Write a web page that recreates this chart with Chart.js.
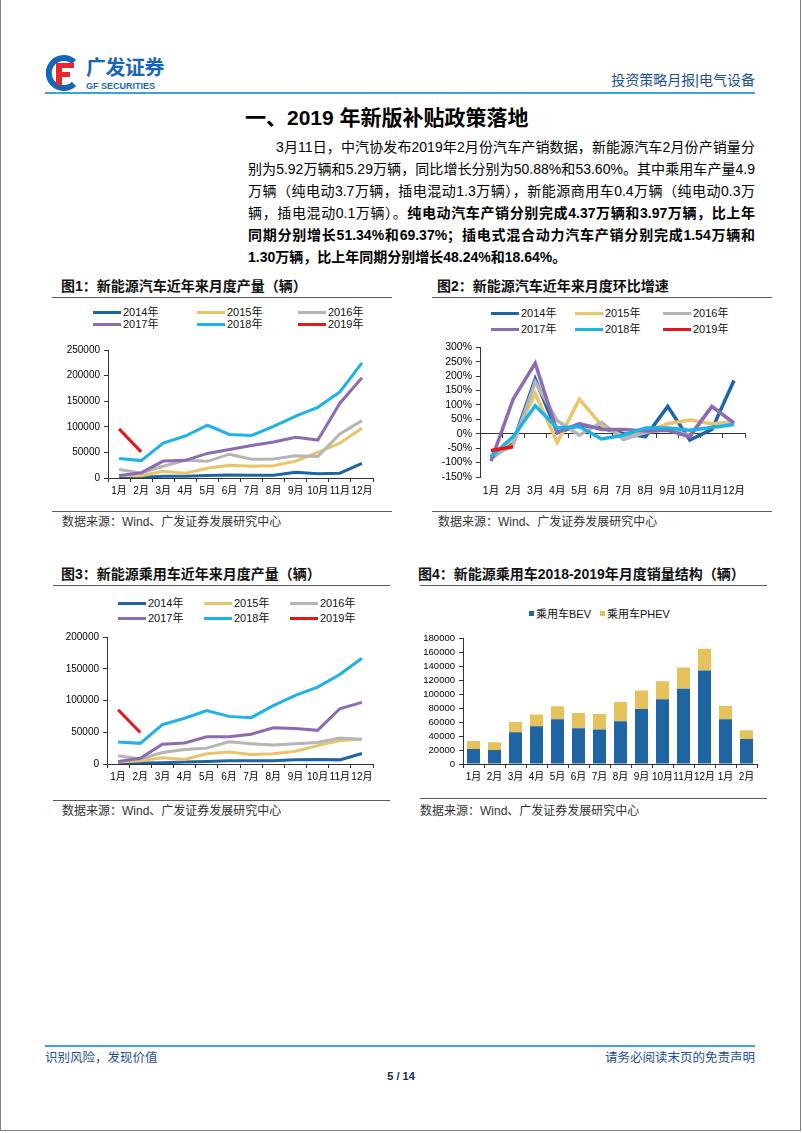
<!DOCTYPE html>
<html>
<head>
<meta charset="utf-8">
<script src="https://cdn.jsdelivr.net/npm/chart.js@4.4.0/dist/chart.umd.min.js"></script>
<style>
  body { margin: 0; background: #fff; font-family: "Liberation Sans", "Noto Sans CJK SC", sans-serif; }
  #page { position: relative; width: 802px; height: 1133px; overflow: hidden; background: #fff; }
  .frame { position: absolute; left: 0; top: -2px; width: 799px; height: 1132px; border: 1px solid #808080; border-top: none; }
  .abs { position: absolute; white-space: nowrap; }
  .hr { position: absolute; height: 1px; background: #595959; }
  .blue { color: #1E4F91; }
  .title { font-size: 14px; font-weight: bold; line-height: 18px; color: #111; }
  .src { font-size: 12px; line-height: 16px; color: #333; }
  .body-line { position: absolute; left: 248px; width: 507px; font-size: 14px; line-height: 22px; color: #000;
               text-align: justify; text-align-last: justify; white-space: nowrap; }
  .b { font-weight: bold; }
  .leg { position: absolute; font-size: 11px; line-height: 14px; color: #111; white-space: nowrap; }
  .sw { position: absolute; height: 3px; width: 28px; }
  canvas { position: absolute; }
</style>
</head>
<body>
<div id="page">
  <div class="frame"></div>

  <!-- header -->
  <svg class="abs" style="left:44px;top:54px" width="36" height="38" viewBox="0 0 36 38">
    <path d="M30 8 A15 15 0 1 0 30 30" fill="none" stroke="#1767B8" stroke-width="6"/>
    <rect x="12" y="9" width="18" height="5" fill="#E8262B"/>
    <rect x="12" y="9" width="6" height="22" fill="#E8262B"/>
    <rect x="12" y="18" width="14" height="5" fill="#E8262B"/>
  </svg>
  <div class="abs" style="left:86px;top:56px;font-size:20px;line-height:24px;font-weight:bold;color:#1767B8;letter-spacing:-0.5px">广发证券</div>
  <div class="abs" style="left:86px;top:81px;font-size:9px;line-height:11px;font-weight:bold;color:#1767B8">GF SECURITIES</div>
  <div class="abs blue" style="right:47px;top:71px;font-size:14px;line-height:18px">投资策略月报|电气设备</div>
  <div class="abs" style="left:45px;top:92px;width:710px;height:2px;background:#3BA3DB"></div>

  <div class="abs" style="left:245px;top:105px;font-size:21px;line-height:26px;font-weight:bold;color:#000">一、2019 年新版补贴政策落地</div>

  <div class="body-line" style="top:136px;text-indent:28px">3月11日，中汽协发布2019年2月份汽车产销数据，新能源汽车2月份产销量分</div>
  <div class="body-line" style="top:158px">别为5.92万辆和5.29万辆，同比增长分别为50.88%和53.60%。其中乘用车产量4.9</div>
  <div class="body-line" style="top:180px">万辆（纯电动3.7万辆，插电混动1.3万辆），新能源商用车0.4万辆（纯电动0.3万</div>
  <div class="body-line" style="top:202px">辆，插电混动0.1万辆）。<span class="b">纯电动汽车产销分别完成4.37万辆和3.97万辆，比上年</span></div>
  <div class="body-line b" style="top:224px">同期分别增长51.34%和69.37%；插电式混合动力汽车产销分别完成1.54万辆和</div>
  <div class="body-line b" style="top:246px;text-align:left;text-align-last:left">1.30万辆，比上年同期分别增长48.24%和18.64%。</div>

  <!-- chart 1 -->
  <div class="abs title" style="left:61px;top:277px">图1：新能源汽车近年来月度产量（辆）</div>
  <div class="hr" style="left:52px;top:297px;width:340px"></div>
  <div id="leg1"></div>
  <canvas id="c1" width="345" height="165" style="left:40px;top:340px"></canvas>
  <div class="hr" style="left:52px;top:511px;width:340px"></div>
  <div class="abs src" style="left:62px;top:514px">数据来源：Wind、广发证券发展研究中心</div>

  <!-- chart 2 -->
  <div class="abs title" style="left:437px;top:277px">图2：新能源汽车近年来月度环比增速</div>
  <div class="hr" style="left:432px;top:297px;width:340px"></div>
  <div id="leg2"></div>
  <canvas id="c2" width="340" height="168" style="left:425px;top:337px"></canvas>
  <div class="hr" style="left:432px;top:511px;width:340px"></div>
  <div class="abs src" style="left:438px;top:514px">数据来源：Wind、广发证券发展研究中心</div>

  <!-- chart 3 -->
  <div class="abs title" style="left:61px;top:565px">图3：新能源乘用车近年来月度产量（辆）</div>
  <div class="hr" style="left:53px;top:585px;width:337px"></div>
  <div id="leg3"></div>
  <canvas id="c3" width="345" height="165" style="left:40px;top:627px"></canvas>
  <div class="hr" style="left:53px;top:800px;width:337px"></div>
  <div class="abs src" style="left:62px;top:803px">数据来源：Wind、广发证券发展研究中心</div>

  <!-- chart 4 -->
  <div class="abs title" style="left:418px;top:565px">图4：新能源乘用车2018-2019年月度销量结构（辆）</div>
  <div class="hr" style="left:420px;top:585px;width:347px"></div>
  <div id="leg4"></div>
  <canvas id="c4" width="355" height="163" style="left:412px;top:629px"></canvas>
  <div class="hr" style="left:420px;top:798px;width:347px"></div>
  <div class="abs src" style="left:420px;top:803px">数据来源：Wind、广发证券发展研究中心</div>

  <!-- footer -->
  <div class="abs" style="left:45px;top:1045px;width:710px;height:2px;background:#3BA3DB"></div>
  <div class="abs blue" style="left:45px;top:1050px;font-size:12.5px;line-height:16px">识别风险，发现价值</div>
  <div class="abs blue" style="right:47px;top:1050px;font-size:12.5px;line-height:16px">请务必阅读末页的免责声明</div>
  <div class="abs" style="left:0;width:802px;text-align:center;top:1069px;font-size:11px;line-height:14px;font-weight:bold;color:#1a2a4a">5 / 14</div>
</div>

<script>
// ── categories ──
const months = ['1月','2月','3月','4月','5月','6月','7月','8月','9月','10月','11月','12月'];
const months4 = ['1月','2月','3月','4月','5月','6月','7月','8月','9月','10月','11月','12月','1月','2月'];
const yearNames = ['2014年','2015年','2016年','2017年','2018年','2019年'];
const yearColors = ['#1F65A3','#E9C46A','#B5B5B5','#8D6BB2','#1DB3E8','#E8161B'];

// ── 图1 新能源汽车月度产量 (辆) ──
const prod2014 = [1000, 1500, 3500, 3500, 5000, 6000, 5500, 5500, 11000, 8500, 9500, 28500];
const prod2015 = [5000, 4500, 13000, 9500, 19000, 25000, 23000, 24000, 33000, 50000, 68000, 97000];
const prod2016 = [16500, 10000, 23000, 34500, 32500, 46500, 36500, 37000, 43500, 42000, 86000, 112000];
const prod2017 = [5000, 10000, 33000, 34500, 48000, 55500, 63500, 70500, 79500, 74000, 146000, 196000];
const prod2018 = [38000, 34000, 68000, 82000, 103000, 85000, 83000, 101000, 121000, 138000, 168000, 225000];
const prod2019 = [96000, 51000];

// ── 图2 月度环比增速 (%) ──
const mom2014 = [-85, -30, 190, 3, 30, 20, 0, -10, 95, -22, 15, 185];
const mom2015 = [-75, -20, 140, -30, 120, 30, -10, 5, 35, 48, 35, 42];
const mom2016 = [-80, -40, 180, 45, -5, 40, -20, 5, 15, -5, 95, 35];
const mom2017 = [-95, 120, 245, 5, 35, 15, 15, 10, 12, -10, 95, 38];
const mom2018 = [-80, -10, 97, 20, 25, -18, -5, 20, 20, 12, 22, 32];
const mom2019 = [-58, -45];

// ── 图3 新能源乘用车月度产量 (辆) ──
const pv2014 = [1000, 1500, 2000, 3000, 4000, 5000, 5000, 5000, 6500, 7000, 6500, 16500];
const pv2015 = [3000, 5000, 10000, 7000, 16000, 19000, 15000, 16000, 20000, 29000, 37000, 39000];
const pv2016 = [13000, 8000, 18000, 23000, 25000, 35000, 32000, 30000, 32000, 34000, 41000, 39000];
const pv2017 = [4000, 9000, 31000, 33000, 43000, 43000, 47000, 57000, 56000, 53000, 87000, 97000];
const pv2018 = [34500, 32500, 62000, 72000, 84000, 75000, 73000, 92000, 108000, 121000, 141000, 166500];
const pv2019 = [85500, 49500];

// ── 图4 乘用车销量结构 (辆) ──
const bevSales = [21600, 20100, 45600, 54200, 64300, 51300, 49400, 61400, 79100, 93000, 108000, 134300, 64300, 36000];
const phevSales = [11500, 11100, 14800, 16800, 18700, 22100, 22600, 27800, 26400, 26000, 30600, 31200, 19200, 12400];
const seriesNames4 = ['乘用车BEV', '乘用车PHEV'];
const seriesColors4 = ['#1F65A3', '#E6C25C'];

const FONT = '"Liberation Sans", "Noto Sans CJK SC", sans-serif';
const AXIS = '#333';

function lineDatasets(series) {
  return series.map((d, i) => ({
    label: yearNames[i], data: d,
    borderColor: yearColors[i], backgroundColor: yearColors[i],
    borderWidth: 3, pointRadius: 0, tension: 0, fill: false,
    order: series.length - 1 - i
  }));
}

function yAxis(min, max, step, width, size, fmt) {
  return {
    min, max,
    ticks: { stepSize: step, autoSkip: false, color: '#000', font: { family: FONT, size }, padding: 4, callback: fmt || (v => String(v)) },
    grid: { drawOnChartArea: false, tickLength: 4, color: AXIS },
    border: { color: AXIS, width: 1 },
    afterFit: s => { s.width = width; }
  };
}

function xAxis(height, size, pad) {
  return {
    type: 'category', offset: true,
    ticks: { color: '#000', font: { family: FONT, size }, padding: pad, maxRotation: 0, autoSkip: false },
    grid: { offset: true, drawOnChartArea: false, tickLength: 4, color: AXIS },
    border: { color: AXIS, width: 1 },
    afterFit: s => { s.height = height; }
  };
}

const baseOpts = (padRight) => ({
  responsive: false, animation: false,
  layout: { padding: { top: 9, right: padRight, left: 0, bottom: 0 } },
  plugins: { legend: { display: false }, tooltip: { enabled: false } }
});

// legends in HTML, three columns like the originals
function lineLegend(id, cols, rows) {
  const el = document.getElementById(id);
  yearNames.forEach((n, i) => {
    const x = cols[i % 3], y = rows[Math.floor(i / 3)];
    el.insertAdjacentHTML('beforeend',
      `<div class="sw" style="left:${x}px;top:${y - 1}px;background:${yearColors[i]}"></div>` +
      `<div class="leg" style="left:${x + 30}px;top:${y - 7}px">${n}</div>`);
  });
}

lineLegend('leg1', [93, 197, 298], [312, 324]);
lineLegend('leg2', [491, 575, 663], [313, 329]);
lineLegend('leg3', [118, 204, 290], [603, 618]);

(function () {
  const el = document.getElementById('leg4');
  const xs = [529, 600];
  seriesNames4.forEach((n, i) => {
    el.insertAdjacentHTML('beforeend',
      `<div class="abs" style="left:${xs[i]}px;top:611px;width:5px;height:5px;background:${seriesColors4[i]}"></div>` +
      `<div class="leg" style="left:${xs[i] + 7}px;top:607px">${n}</div>`);
  });
})();

// 图1
new Chart(document.getElementById('c1'), {
  type: 'line',
  data: { labels: months, datasets: lineDatasets([prod2014, prod2015, prod2016, prod2017, prod2018, prod2019]) },
  options: Object.assign(baseOpts(12), {
    scales: { x: xAxis(27, 10, 3), y: yAxis(0, 250000, 50000, 68, 10) }
  })
});

// 图2
const opts2 = baseOpts(20);
opts2.scales = {
  x: {
    type: 'category', offset: true,
    ticks: { color: '#000', font: { family: FONT, size: 10.5 }, padding: 8, maxRotation: 0, autoSkip: false },
    grid: { display: false, drawTicks: false },
    border: { display: false },
    afterFit: s => { s.height = 28; }
  },
  x2: {
    type: 'category', labels: months, offset: true, position: { y: 0 },
    ticks: { display: false },
    grid: { offset: true, drawOnChartArea: false, tickLength: 4, color: AXIS },
    border: { color: AXIS, width: 1 }
  },
  y: yAxis(-150, 300, 50, 55, 10.5, v => v + '%')
};
new Chart(document.getElementById('c2'), {
  type: 'line',
  data: { labels: months, datasets: lineDatasets([mom2014, mom2015, mom2016, mom2017, mom2018, mom2019]).map(d => Object.assign(d, { borderWidth: 3.5 })) },
  options: opts2
});

// 图3
new Chart(document.getElementById('c3'), {
  type: 'line',
  data: { labels: months, datasets: lineDatasets([pv2014, pv2015, pv2016, pv2017, pv2018, pv2019]) },
  options: Object.assign(baseOpts(12), {
    scales: { x: xAxis(28, 10, 3), y: yAxis(0, 200000, 50000, 67, 10) }
  })
});

// 图4
const y4 = yAxis(0, 180000, 20000, 51, 9.5);
y4.stacked = true;
const x4 = xAxis(28, 10, 3);
x4.stacked = true;
new Chart(document.getElementById('c4'), {
  type: 'bar',
  data: {
    labels: months4,
    datasets: [
      { label: seriesNames4[0], data: bevSales, backgroundColor: seriesColors4[0], barPercentage: 0.62, categoryPercentage: 1 },
      { label: seriesNames4[1], data: phevSales, backgroundColor: seriesColors4[1], barPercentage: 0.62, categoryPercentage: 1 }
    ]
  },
  options: Object.assign(baseOpts(10), { scales: { x: x4, y: y4 } })
});
</script>
</body>
</html>
